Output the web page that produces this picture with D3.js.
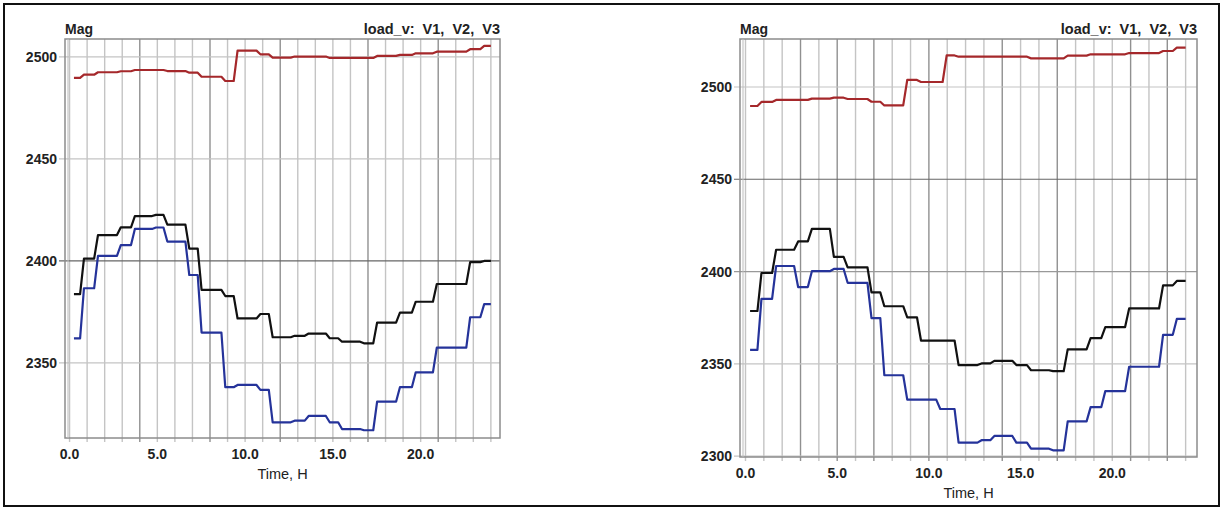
<html>
<head>
<meta charset="utf-8">
<style>
  body { margin: 0; background: #fff; }
  text { font-family: "Liberation Sans", Arial, sans-serif; white-space: pre; }
</style>
</head>
<body>
<svg id="chart" width="1225" height="508"></svg>
<script src="https://cdn.jsdelivr.net/npm/d3@7"></script>
<script>
// step start times (hours) and levels for each series
const leftTimes = [0.25, 0.6, 1.4, 2.7, 3.5, 4.7, 5.35, 6.6, 7.3, 8.65, 9.35, 10.65, 11.35, 12.6, 13.4, 14.6, 15.3, 16.55, 17.3, 18.6, 19.5, 20.7, 22.6, 23.4]
const leftV1 = [2489.7, 2491.3, 2492.5, 2493, 2493.6, 2493.6, 2493.1, 2492.3, 2490.3, 2488.2, 2503.1, 2501.3, 2499.7, 2500.2, 2500.2, 2499.5, 2499.5, 2499.5, 2500.5, 2501, 2501.8, 2502.6, 2503.8, 2505.4]
const leftV2 = [2383.7, 2401.1, 2412.7, 2416.5, 2422, 2422.6, 2417.8, 2406, 2385.8, 2382.8, 2371.8, 2374, 2362.6, 2363.3, 2364.4, 2362.1, 2360.4, 2359.6, 2369.8, 2374.7, 2380, 2388.7, 2399.4, 2400]
const leftV3 = [2362, 2386.6, 2402.5, 2407.8, 2415.7, 2416.4, 2409.5, 2393.1, 2364.9, 2338.1, 2339.2, 2336.8, 2320.9, 2321.7, 2324, 2320.9, 2317.6, 2317, 2331, 2338.1, 2345.4, 2357.5, 2372.4, 2378.8]

const rightTimes = [0.25, 0.65, 1.45, 2.65, 3.4, 4.6, 5.35, 6.65, 7.35, 8.6, 9.35, 10.4, 10.75, 11.4, 12.65, 13.35, 14.55, 15.35, 16.55, 17.35, 18.6, 19.4, 20.7, 22.55, 23.3]
const rightV1 = [2489.7, 2491.9, 2493, 2493, 2493.7, 2494.2, 2493.5, 2492, 2490, 2503.8, 2502.7, 2502.7, 2517.1, 2516.4, 2516.4, 2516.4, 2516.4, 2515.5, 2515.5, 2517, 2517.7, 2517.7, 2518.4, 2519.5, 2521.3]
const rightV2 = [2378.6, 2399.2, 2411.8, 2416.3, 2423.1, 2407.9, 2402.3, 2388.7, 2381.2, 2375.2, 2362.6, 2362.6, 2362.6, 2349.3, 2350.2, 2351.6, 2349.3, 2346.5, 2346, 2357.8, 2363.9, 2369.9, 2380, 2392.5, 2394.9]
const rightV3 = [2357.5, 2385.2, 2403, 2391.6, 2400.2, 2401.4, 2393.9, 2374.8, 2343.8, 2330.6, 2330.6, 2325.5, 2325.5, 2307.3, 2308.6, 2310.9, 2307.3, 2304, 2303.1, 2318.8, 2326.5, 2335.2, 2348.4, 2365.7, 2374.3]

const endTime = 24
const xTicks = [0, 5, 10, 15, 20]
const hourGrid = d3.range(0, 25)
const leftYTicks = [2350, 2400, 2450, 2500]
const rightYTicks = [2300, 2350, 2400, 2450, 2500]
const seriesNames = ["V1", "V2", "V3"]
const seriesColors = ["#a5282b", "#111111", "#25339a"]

let svg = d3.select("#chart")

svg.append("rect")
    .attr("x", 4).attr("y", 4)
    .attr("width", 1215).attr("height", 502)
    .attr("fill", "none")
    .attr("stroke", "#111")
    .attr("stroke-width", 2)

drawPanel({
    left: 65, right: 500, top: 39, bottom: 438,
    xDomain: [-0.26, 24.52], yDomain: [2313.2, 2508.8],
    yTicks: leftYTicks, darkY: [2400], midY: [],
    darkHours: [4, 8, 12, 17, 21],
    times: leftTimes, series: [leftV1, leftV2, leftV3]
})

drawPanel({
    left: 740, right: 1197, top: 39, bottom: 457,
    xDomain: [-0.3, 24.62], yDomain: [2299.5, 2526],
    yTicks: rightYTicks, darkY: [2450], midY: [2400],
    darkHours: [3, 5, 7, 10, 14, 17, 21, 23],
    times: rightTimes, series: [rightV1, rightV2, rightV3]
})

function stepPoints(times, values) {
    let ramp = 0.22
    let pts = [[times[0], values[0]]]
    for (let i = 1; i < times.length; i++) {
        pts.push([times[i], values[i - 1]])
        pts.push([times[i] + ramp, values[i]])
    }
    pts.push([endTime, values[values.length - 1]])
    return pts
}

function drawPanel(cfg) {
    let g = svg.append("g")

    let x = d3.scaleLinear().domain(cfg.xDomain).range([cfg.left, cfg.right])
    let y = d3.scaleLinear().domain(cfg.yDomain).range([cfg.bottom, cfg.top])

    // vertical hour grid
    g.append("g").selectAll("line").data(hourGrid).enter()
        .append("line")
        .attr("x1", d => x(d)).attr("x2", d => x(d))
        .attr("y1", cfg.top).attr("y2", cfg.bottom + 4)
        .attr("stroke", d => cfg.darkHours.includes(d) ? "#909090" : "#c4c4c4")
        .attr("stroke-width", 1.4)

    // horizontal grid
    g.append("g").selectAll("line").data(cfg.yTicks).enter()
        .append("line")
        .attr("x1", cfg.left - 6).attr("x2", cfg.right)
        .attr("y1", d => y(d)).attr("y2", d => y(d))
        .attr("stroke", d => cfg.darkY.includes(d) ? "#666" : (cfg.midY.includes(d) ? "#999" : "#c4c4c4"))
        .attr("stroke-width", 1.2)

    // plot frame
    g.append("rect")
        .attr("x", cfg.left).attr("y", cfg.top)
        .attr("width", cfg.right - cfg.left).attr("height", cfg.bottom - cfg.top)
        .attr("fill", "none")
        .attr("stroke", "#8c8c8c")
        .attr("stroke-width", 1.5)
    g.append("line")
        .attr("x1", cfg.left + 3).attr("x2", cfg.left + 3)
        .attr("y1", cfg.top).attr("y2", cfg.bottom)
        .attr("stroke", "#bbb")

    // y labels
    g.append("g").selectAll("text").data(cfg.yTicks).enter()
        .append("text")
        .attr("x", cfg.left - 8)
        .attr("y", d => y(d) + 5)
        .attr("text-anchor", "end")
        .attr("font-size", 14)
        .attr("font-weight", "bold")
        .attr("fill", "#222")
        .text(d => d)

    // x labels
    g.append("g").selectAll("text").data(xTicks).enter()
        .append("text")
        .attr("x", d => x(d))
        .attr("y", cfg.bottom + 21)
        .attr("text-anchor", "middle")
        .attr("font-size", 14)
        .attr("font-weight", "bold")
        .attr("fill", "#222")
        .text(d => d3.format(".1f")(d))

    g.append("text")
        .attr("x", (cfg.left + cfg.right) / 2)
        .attr("y", cfg.bottom + 41)
        .attr("text-anchor", "middle")
        .attr("font-size", 14.5)
        .attr("fill", "#222")
        .text("Time, H")

    g.append("text")
        .attr("x", cfg.left)
        .attr("y", 34)
        .attr("font-size", 14)
        .attr("font-weight", "bold")
        .attr("fill", "#222")
        .text("Mag")

    g.append("text")
        .attr("x", cfg.right)
        .attr("y", 34)
        .attr("text-anchor", "end")
        .attr("font-size", 14.5)
        .attr("font-weight", "bold")
        .attr("fill", "#222")
        .text("load_v:  " + seriesNames.join(",  "))

    let line = d3.line().x(d => x(d[0])).y(d => y(d[1]))

    g.append("g").selectAll("path").data(cfg.series).enter()
        .append("path")
        .attr("d", d => line(stepPoints(cfg.times, d)))
        .attr("fill", "none")
        .attr("stroke", (d, i) => seriesColors[i])
        .attr("stroke-width", 2.2)
        .attr("stroke-linejoin", "round")
}
</script>
</body>
</html>
